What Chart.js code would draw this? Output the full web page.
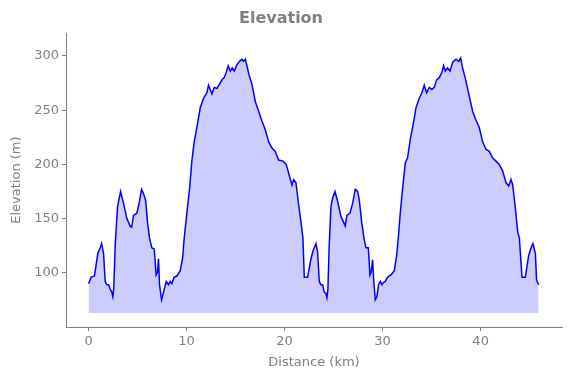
<!DOCTYPE html>
<html>
<head>
<meta charset="utf-8">
<script src="https://cdn.jsdelivr.net/npm/chart.js@4.4.1/dist/chart.umd.min.js"></script>
<style>
  html, body { margin: 0; padding: 0; background: #fff; }
  #wrap { width: 571px; height: 378px; }
</style>
</head>
<body>
<div id="wrap"><canvas id="elevChart"></canvas></div>
<script>
// distance along the route (km) and elevation (m)
var distKm = [0, 0.1, 0.27, 0.6, 0.95, 1.19, 1.33, 1.53, 1.7, 1.87, 2.05, 2.2, 2.38, 2.48, 2.58, 2.72, 2.96, 3.27, 3.57, 3.91, 4.25, 4.4, 4.59, 4.93, 5.2, 5.41, 5.61, 5.82, 6.02, 6.22, 6.46, 6.7, 6.9, 7.04, 7.14, 7.24, 7.45, 7.65, 7.93, 8.16, 8.33, 8.5, 8.74, 9.01, 9.35, 9.59, 9.76, 10.03, 10.31, 10.54, 10.78, 11.05, 11.39, 11.73, 12.07, 12.24, 12.41, 12.59, 12.82, 13.1, 13.37, 13.61, 13.84, 14.05, 14.25, 14.46, 14.66, 14.86, 15.14, 15.41, 15.65, 15.82, 15.99, 16.16, 16.36, 16.67, 17.01, 17.35, 17.69, 18.03, 18.37, 18.71, 19.05, 19.39, 19.83, 20.17, 20.41, 20.75, 20.92, 21.16, 21.43, 21.67, 21.87, 22.01, 22.35, 22.69, 22.93, 23.2, 23.37, 23.54, 23.71, 23.88, 24.05, 24.22, 24.32, 24.42, 24.55, 24.73, 24.9, 25.14, 25.41, 25.75, 26.19, 26.36, 26.67, 26.94, 27.21, 27.45, 27.62, 27.86, 28.1, 28.3, 28.54, 28.71, 28.84, 28.98, 29.08, 29.25, 29.42, 29.59, 29.76, 29.93, 30.07, 30.27, 30.51, 30.85, 31.19, 31.43, 31.6, 31.8, 32.04, 32.31, 32.55, 32.82, 33.06, 33.4, 33.74, 34.01, 34.25, 34.49, 34.76, 35.03, 35.27, 35.51, 35.78, 36.05, 36.22, 36.39, 36.63, 36.87, 37.14, 37.48, 37.76, 37.96, 38.16, 38.5, 38.84, 39.18, 39.52, 39.86, 40.2, 40.54, 40.88, 41.22, 41.56, 41.9, 42.24, 42.59, 42.86, 43.1, 43.27, 43.54, 43.78, 43.95, 44.22, 44.56, 44.9, 45.14, 45.34, 45.58, 45.71, 45.92];
var elevM = [90, 92, 96, 97, 118, 123, 127, 118, 92, 89, 89, 85, 82, 78, 87, 126, 161, 175, 164, 150, 143, 142, 153, 155, 166, 177, 173, 167, 146, 132, 123, 122, 98, 101, 113, 89, 75, 82, 92, 89, 92, 90, 96, 97, 102, 113, 132, 155, 178, 203, 221, 234, 252, 261, 266, 273, 269, 265, 271, 270, 274, 278, 280, 285, 291, 286, 289, 286, 292, 295, 297, 295, 297, 291, 283, 274, 258, 249, 240, 232, 221, 215, 212, 204, 203, 200, 192, 181, 186, 183, 163, 147, 132, 96, 96, 113, 121, 127, 119, 92, 89, 89, 82, 81, 77, 85, 125, 161, 169, 175, 166, 152, 143, 153, 155, 164, 177, 175, 167, 147, 132, 123, 123, 98, 101, 112, 95, 75, 78, 89, 92, 89, 91, 92, 96, 98, 102, 116, 132, 155, 178, 201, 206, 223, 234, 252, 261, 266, 273, 266, 271, 269, 271, 278, 280, 285, 291, 286, 289, 286, 294, 297, 295, 298, 289, 277, 263, 249, 241, 234, 221, 214, 212, 206, 203, 200, 194, 183, 180, 186, 181, 160, 138, 132, 96, 96, 116, 123, 127, 118, 93, 89];
var fillBase = 63;
var xTicks = [0, 10, 20, 30, 40];
var yTicks = [100, 150, 200, 250, 300];

var grey = '#808080';
var points = distKm.map(function (d, i) { return { x: d, y: elevM[i] }; });

var ctx = document.getElementById("elevChart");
var elevChart = new Chart(ctx, {
  type: 'line',
  data: {
    datasets: [{
      data: points,
      borderColor: '#0000ff',
      borderWidth: 1.5,
      backgroundColor: 'rgba(0, 0, 255, 0.2)',
      fill: { value: fillBase },
      pointRadius: 0,
      tension: 0
    }]
  },
  options: {
    responsive: true,
    maintainAspectRatio: false,
    animation: false,
    layout: { padding: { left: 0, right: 9, top: 0, bottom: 0 } },
    plugins: {
      legend: { display: false },
      tooltip: { enabled: false },
      title: {
        display: true,
        text: 'Elevation',
        color: grey,
        font: { family: 'DejaVu Sans', size: 16, weight: 'bold' },
        padding: { top: 9, bottom: 5 }
      }
    },
    scales: {
      x: {
        type: 'linear',
        min: -2.3,
        max: 48.3,
        afterBuildTicks: function (s) { s.ticks = xTicks.map(function (v) { return { value: v }; }); },
        afterFit: function (s) { s.height = 51; },
        grid: { display: true, drawOnChartArea: false, drawTicks: true, tickLength: 4, color: grey },
        border: { display: true, color: grey, width: 1 },
        ticks: { color: grey, padding: 3, font: { family: 'DejaVu Sans', size: 13 }, maxRotation: 0 },
        title: { display: true, text: 'Distance (km)', color: grey, font: { family: 'DejaVu Sans', size: 13 }, padding: { top: 2, bottom: 8 } }
      },
      y: {
        min: 50,
        max: 321,
        afterBuildTicks: function (s) { s.ticks = yTicks.map(function (v) { return { value: v }; }); },
        afterFit: function (s) { s.width = 66; },
        grid: { display: true, drawOnChartArea: false, drawTicks: true, tickLength: 4, color: grey },
        border: { display: true, color: grey, width: 1 },
        ticks: { color: grey, padding: 3, font: { family: 'DejaVu Sans', size: 13 } },
        title: { display: true, text: 'Elevation (m)', color: grey, font: { family: 'DejaVu Sans', size: 13 }, padding: { top: 9, bottom: 2 } }
      }
    }
  }
});
</script>
</body>
</html>
